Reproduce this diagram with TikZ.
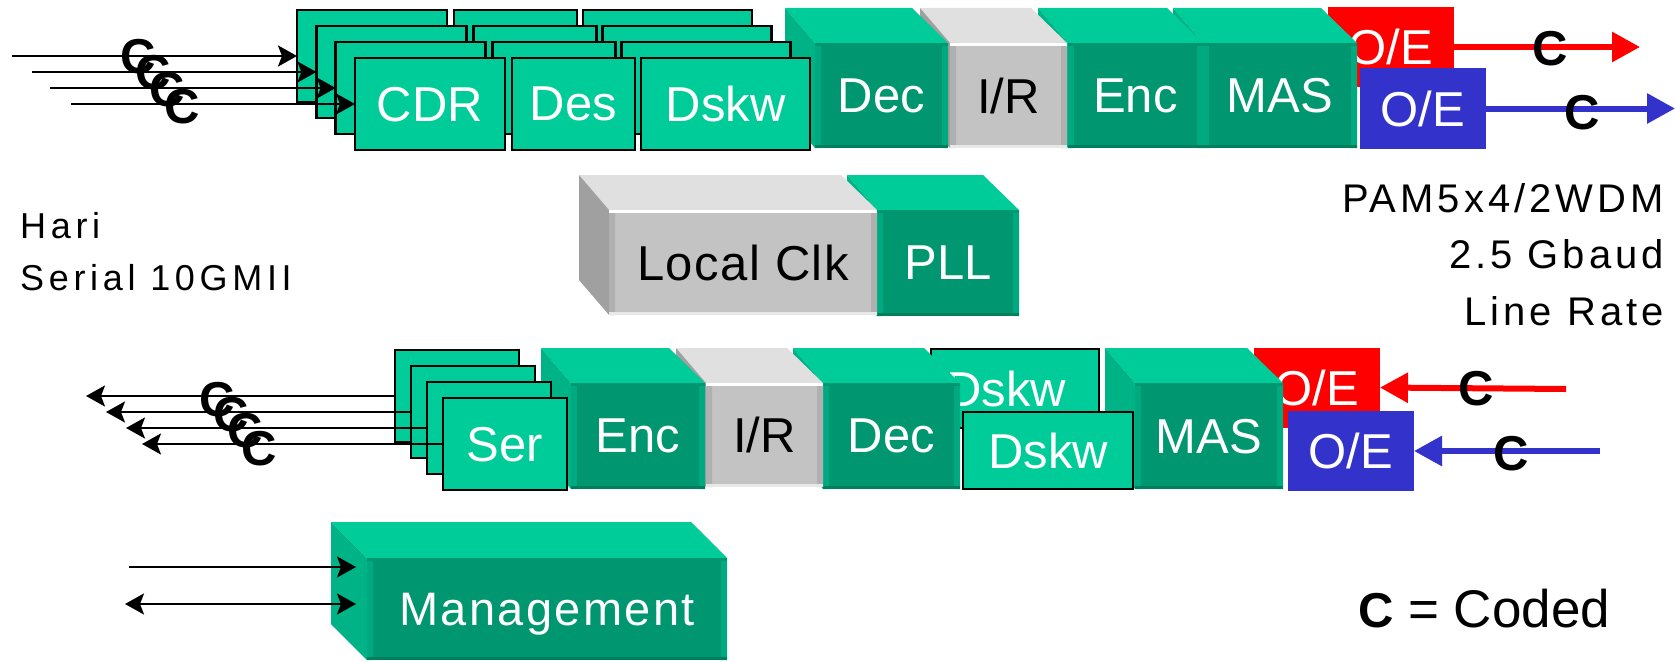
\documentclass[tikz,border=0pt]{standalone}
\usepackage{fontspec}
\setmainfont{Liberation Sans}
\newfontfamily\wideleft[LetterSpace=13]{Liberation Sans}
\newfontfamily\wideright[LetterSpace=10]{Liberation Sans}
\usetikzlibrary{arrows.meta}

% block colours: tl = teal, gr = grey
\definecolor{tltop}{HTML}{00CC99}
\definecolor{tlfront}{HTML}{009670}
\definecolor{tlside}{HTML}{00B386}
\definecolor{tledge}{HTML}{00AA80}
\definecolor{tlbase}{HTML}{007F5E}
\definecolor{tllid}{HTML}{009670}
\definecolor{grtop}{HTML}{E0E0E0}
\definecolor{grfront}{HTML}{C3C3C3}
\definecolor{grside}{HTML}{A0A0A0}
\definecolor{gredge}{HTML}{B0B0B0}
\definecolor{grbase}{HTML}{E8E8E8}
\definecolor{grlid}{HTML}{FFFFFF}
\definecolor{oered}{HTML}{FF0000}
\definecolor{oeblue}{HTML}{3333CC}

\tikzset{
  blk/.style={font=\fontsize{49}{50}\selectfont, inner sep=0pt, outer sep=0pt, text depth=0pt},
  tltext/.style={text=white},
  grtext/.style={text=black},
  flat/.style={blk, draw=black, line width=2.6pt, fill=tltop, text=white},
  oe/.style={blk, text=white, minimum width=126pt, minimum height=80pt},
  coded/.style={font=\fontsize{49}{50}\selectfont\bfseries, inner sep=0pt, text depth=0pt},
  wire/.style={line width=2.5pt, -{Stealth[length=19pt,width=21pt,inset=4pt]}},
  fibre/.style={line width=6pt, -{Triangle[length=28pt,width=29pt]}},
}

% depth of the boxes: left edge, right edge, height
\newcommand{\depl}{30}
\newcommand{\depr}{36}
\newcommand{\deph}{35}

% #1 name, #2 tl/gr, #3 x1, #4 y1, #5 x2, #6 y2, #7 text
\newcommand{\cubeblock}[7]{%
  \fill[#2top] (#3-\depl,#4-\deph) -- (#5-\depr,#4-\deph) -- (#5,#4) -- (#3,#4) -- cycle;
  \fill[#2side] (#3-\depl,#4-\deph) -- (#3,#4) -- (#3,#6) -- (#3-\depl,#6-\deph) -- cycle;
  \node[blk, #2text, fill=#2front, minimum width=#5-#3, minimum height=#6-#4]
    (#1) at ({(#3+#5)/2},{(#4+#6)/2}) {#7};
  \fill[#2edge] (#3,#4) rectangle (#3+6,#6) (#5-6,#4) rectangle (#5,#6);
  \fill[#2base] (#3,#6-3) rectangle (#5,#6);
  \fill[#2lid] (#3,#4) rectangle (#5,#4+3);
}

\begin{document}
\begin{tikzpicture}[x=1pt,y=-1pt]

  \useasboundingbox (0,0) rectangle (1675,661);

  % receive path
  \node[oe, fill=oered] (oe1) at (1391,47) {O/E};
  \cubeblock{mas1}{tl}{1203}{43}{1357}{148}{MAS}
  \cubeblock{enc1}{tl}{1068}{43}{1203}{148}{Enc}
  \cubeblock{ir1}{gr}{950}{43}{1067}{148}{I/R}
  \cubeblock{dec1}{tl}{815}{43}{948}{148}{Dec}
  \node[oe, fill=oeblue] (oe2) at (1423,108.5) {O/E};

  \begin{scope}[every node/.style={flat, minimum height=92pt}]
    \node[minimum width=150pt] (cdr3)  at (372,56)    {};
    \node[minimum width=123pt] (des3)  at (515.5,56)  {};
    \node[minimum width=169pt] (dskw3) at (667.5,56)  {};
    \node[minimum width=150pt] (cdr2)  at (391.4,72)  {};
    \node[minimum width=123pt] (des2)  at (534.9,72)  {};
    \node[minimum width=169pt] (dskw2) at (686.9,72)  {};
    \node[minimum width=150pt] (cdr1)  at (410.7,88)  {};
    \node[minimum width=123pt] (des1)  at (554.2,88)  {};
    \node[minimum width=169pt] (dskw1) at (706.2,88)  {};
    \node[minimum width=150pt] (cdr0)  at (430,104)   {CDR};
    \node[minimum width=123pt] (des0)  at (573.5,104) {Des};
    \node[minimum width=169pt] (dskw0) at (725.5,104) {Dskw};
  \end{scope}

  \coordinate (in3) at (12,56);
  \coordinate (in2) at (32,72);
  \coordinate (in1) at (50,88);
  \coordinate (in0) at (71,104);
  \draw[wire] (in3) -- (cdr3.west);
  \draw[wire] (in2) -- (cdr2.west);
  \draw[wire] (in1) -- (cdr1.west);
  \draw[wire] (in0) -- (cdr0.west);
  \node[coded] (ci3) at (138,56)  {C};
  \node[coded] (ci2) at (153,72)  {C};
  \node[coded] (ci1) at (167,89)  {C};
  \node[coded] (ci0) at (182,106) {C};

  \coordinate (tx1) at (1640,47);
  \coordinate (tx2) at (1675,108.5);
  \draw[fibre, oered] (oe1.east) -- (tx1);
  \draw[fibre, oeblue] (oe2.east) -- (tx2);
  \node[coded] (co1) at (1550,48)  {C};
  \node[coded] (co2) at (1582,112) {C};

  % clock
  \cubeblock{pll}{tl}{877}{210}{1019}{316}{PLL}
  \cubeblock{clk}{gr}{609}{210}{877}{315}{\addfontfeature{LetterSpace=3}Local Clk}

  % transmit path
  \node[flat, minimum width=168pt, minimum height=79pt] (dskwb) at (1015,388.5) {\kern-18pt Dskw};
  \node[oe, fill=oered] (oe3) at (1317,387.5) {O/E};
  \cubeblock{mas2}{tl}{1135}{383}{1283}{489}{MAS}
  \cubeblock{dec2}{tl}{823}{383}{960}{489}{Dec}
  \cubeblock{ir2}{gr}{706}{383}{823}{487}{I/R}
  \cubeblock{enc2}{tl}{571}{383}{705}{489}{Enc}
  \node[oe, fill=oeblue] (oe4) at (1351,451) {O/E};
  \node[flat, minimum width=170pt, minimum height=77pt] (dskwf) at (1048,450.5) {Dskw};

  \begin{scope}[every node/.style={flat, minimum width=124pt, minimum height=92pt}]
    \node (ser3) at (457,396) {};
    \node (ser2) at (473,412) {};
    \node (ser1) at (489,428) {};
    \node (ser0) at (505,444) {Ser};
  \end{scope}

  \coordinate (out3) at (86,396);
  \coordinate (out2) at (106,412);
  \coordinate (out1) at (126,428);
  \coordinate (out0) at (142,444);
  \draw[wire] (ser3.west) -- (out3);
  \draw[wire] (ser2.west) -- (out2);
  \draw[wire] (ser1.west) -- (out1);
  \draw[wire] (ser0.west) -- (out0);
  \node[coded] (cs3) at (217,399) {C};
  \node[coded] (cs2) at (231,414) {C};
  \node[coded] (cs1) at (245,430) {C};
  \node[coded] (cs0) at (259,448) {C};

  \coordinate (rx1) at (1566,389);
  \coordinate (rx2) at (1600,451);
  \draw[fibre, oered] (rx1) -- (oe3.east);
  \draw[fibre, oeblue] (rx2) -- (oe4.east);
  \node[coded] (cr1) at (1476,388) {C};
  \node[coded] (cr2) at (1511,453) {C};

  % management
  \renewcommand{\depl}{36}
  \renewcommand{\depr}{36}
  \renewcommand{\deph}{36}
  \cubeblock{mgmt}{tl}{367}{558}{727}{660}{\fontsize{47}{48}\selectfont\addfontfeature{LetterSpace=5}Management}
  \coordinate (m1) at (129,567);
  \coordinate (m1tip) at (356,567);
  \coordinate (m2) at (125,604);
  \coordinate (m2tip) at (356,604);
  \draw[wire] (m1) -- (m1tip);
  \draw[wire, {Stealth[length=19pt,width=21pt,inset=4pt]}-{Stealth[length=19pt,width=21pt,inset=4pt]}] (m2) -- (m2tip);

  % notes (base is the last line)
  \node[anchor=base west, align=left, inner sep=0pt,
        font=\wideleft\fontsize{36}{52}\selectfont] (hari) at (20,290) {Hari\\Serial 10GMII};
  \node[anchor=base east, align=right, inner sep=0pt,
        font=\wideright\fontsize{40}{56.5}\selectfont] (rate) at (1664,325) {PAM5x4/2WDM\\2.5 Gbaud\\Line Rate};
  \node[anchor=base west, inner sep=0pt, font=\fontsize{53}{53}\selectfont] (legend) at (1358,627)
    {{\fontsize{49}{50}\selectfont\bfseries C} = Coded};

\end{tikzpicture}
\end{document}
